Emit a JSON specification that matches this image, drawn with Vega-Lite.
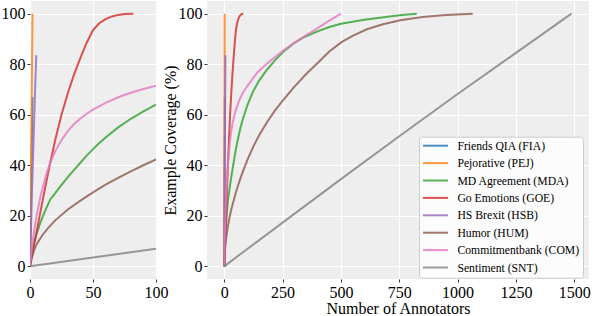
{
  "$schema": "https://vega.github.io/schema/vega-lite/v6.json",
  "padding": {"left": 1, "top": 1, "right": 0, "bottom": 0},
  "background": "white",
  "spacing": 51,
  "bounds": "flush",
  "datasets": {
    "curves": [
      {"s": "Friends QIA (FIA)", "x": 0, "y": 0},
      {"s": "Friends QIA (FIA)", "x": 1, "y": 33.5},
      {"s": "Friends QIA (FIA)", "x": 2, "y": 67},

      {"s": "Pejorative (PEJ)", "x": 0, "y": 0},
      {"s": "Pejorative (PEJ)", "x": 1, "y": 50},
      {"s": "Pejorative (PEJ)", "x": 2, "y": 100},

      {"s": "MD Agreement (MDA)", "x": 0, "y": 0},
      {"s": "MD Agreement (MDA)", "x": 1, "y": 4},
      {"s": "MD Agreement (MDA)", "x": 3, "y": 9},
      {"s": "MD Agreement (MDA)", "x": 5, "y": 12.5},
      {"s": "MD Agreement (MDA)", "x": 8, "y": 17},
      {"s": "MD Agreement (MDA)", "x": 12, "y": 22},
      {"s": "MD Agreement (MDA)", "x": 16, "y": 26.4},
      {"s": "MD Agreement (MDA)", "x": 20, "y": 29},
      {"s": "MD Agreement (MDA)", "x": 25, "y": 32.2},
      {"s": "MD Agreement (MDA)", "x": 30, "y": 35.3},
      {"s": "MD Agreement (MDA)", "x": 35, "y": 38.2},
      {"s": "MD Agreement (MDA)", "x": 40, "y": 41},
      {"s": "MD Agreement (MDA)", "x": 45, "y": 43.8},
      {"s": "MD Agreement (MDA)", "x": 50, "y": 46.4},
      {"s": "MD Agreement (MDA)", "x": 55, "y": 48.8},
      {"s": "MD Agreement (MDA)", "x": 60, "y": 51},
      {"s": "MD Agreement (MDA)", "x": 70, "y": 55},
      {"s": "MD Agreement (MDA)", "x": 80, "y": 58.4},
      {"s": "MD Agreement (MDA)", "x": 90, "y": 61.3},
      {"s": "MD Agreement (MDA)", "x": 100, "y": 64},
      {"s": "MD Agreement (MDA)", "x": 125, "y": 69.5},
      {"s": "MD Agreement (MDA)", "x": 150, "y": 73.6},
      {"s": "MD Agreement (MDA)", "x": 183, "y": 77.8},
      {"s": "MD Agreement (MDA)", "x": 218, "y": 81.6},
      {"s": "MD Agreement (MDA)", "x": 254, "y": 85},
      {"s": "MD Agreement (MDA)", "x": 300, "y": 88.4},
      {"s": "MD Agreement (MDA)", "x": 340, "y": 90.6},
      {"s": "MD Agreement (MDA)", "x": 400, "y": 93},
      {"s": "MD Agreement (MDA)", "x": 450, "y": 94.7},
      {"s": "MD Agreement (MDA)", "x": 500, "y": 96},
      {"s": "MD Agreement (MDA)", "x": 600, "y": 97.6},
      {"s": "MD Agreement (MDA)", "x": 700, "y": 98.8},
      {"s": "MD Agreement (MDA)", "x": 760, "y": 99.5},
      {"s": "MD Agreement (MDA)", "x": 825, "y": 100},

      {"s": "Go Emotions (GOE)", "x": 0, "y": 0},
      {"s": "Go Emotions (GOE)", "x": 2, "y": 5.3},
      {"s": "Go Emotions (GOE)", "x": 5, "y": 13},
      {"s": "Go Emotions (GOE)", "x": 10, "y": 26},
      {"s": "Go Emotions (GOE)", "x": 15, "y": 38.5},
      {"s": "Go Emotions (GOE)", "x": 20, "y": 50},
      {"s": "Go Emotions (GOE)", "x": 25, "y": 60},
      {"s": "Go Emotions (GOE)", "x": 30, "y": 68.5},
      {"s": "Go Emotions (GOE)", "x": 35, "y": 76},
      {"s": "Go Emotions (GOE)", "x": 40, "y": 82.5},
      {"s": "Go Emotions (GOE)", "x": 45, "y": 88.5},
      {"s": "Go Emotions (GOE)", "x": 50, "y": 93.5},
      {"s": "Go Emotions (GOE)", "x": 55, "y": 96.2},
      {"s": "Go Emotions (GOE)", "x": 60, "y": 97.8},
      {"s": "Go Emotions (GOE)", "x": 65, "y": 98.9},
      {"s": "Go Emotions (GOE)", "x": 70, "y": 99.5},
      {"s": "Go Emotions (GOE)", "x": 75, "y": 99.85},
      {"s": "Go Emotions (GOE)", "x": 82, "y": 100},

      {"s": "HS Brexit (HSB)", "x": 0, "y": 0},
      {"s": "HS Brexit (HSB)", "x": 1, "y": 19},
      {"s": "HS Brexit (HSB)", "x": 2, "y": 37},
      {"s": "HS Brexit (HSB)", "x": 3, "y": 53},
      {"s": "HS Brexit (HSB)", "x": 4, "y": 69},
      {"s": "HS Brexit (HSB)", "x": 5, "y": 83.5},

      {"s": "Humor (HUM)", "x": 0, "y": 0},
      {"s": "Humor (HUM)", "x": 1, "y": 2.5},
      {"s": "Humor (HUM)", "x": 3, "y": 6},
      {"s": "Humor (HUM)", "x": 5, "y": 8.5},
      {"s": "Humor (HUM)", "x": 10, "y": 12.5},
      {"s": "Humor (HUM)", "x": 15, "y": 15.5},
      {"s": "Humor (HUM)", "x": 20, "y": 18.2},
      {"s": "Humor (HUM)", "x": 30, "y": 22.5},
      {"s": "Humor (HUM)", "x": 40, "y": 26},
      {"s": "Humor (HUM)", "x": 50, "y": 29.3},
      {"s": "Humor (HUM)", "x": 60, "y": 32.3},
      {"s": "Humor (HUM)", "x": 70, "y": 35},
      {"s": "Humor (HUM)", "x": 80, "y": 37.6},
      {"s": "Humor (HUM)", "x": 90, "y": 40},
      {"s": "Humor (HUM)", "x": 100, "y": 42.3},
      {"s": "Humor (HUM)", "x": 125, "y": 47.5},
      {"s": "Humor (HUM)", "x": 150, "y": 52},
      {"s": "Humor (HUM)", "x": 183, "y": 57},
      {"s": "Humor (HUM)", "x": 220, "y": 62},
      {"s": "Humor (HUM)", "x": 254, "y": 66},
      {"s": "Humor (HUM)", "x": 300, "y": 71},
      {"s": "Humor (HUM)", "x": 350, "y": 76},
      {"s": "Humor (HUM)", "x": 400, "y": 80.5},
      {"s": "Humor (HUM)", "x": 450, "y": 85},
      {"s": "Humor (HUM)", "x": 504, "y": 88.8},
      {"s": "Humor (HUM)", "x": 550, "y": 91.2},
      {"s": "Humor (HUM)", "x": 611, "y": 93.8},
      {"s": "Humor (HUM)", "x": 680, "y": 95.8},
      {"s": "Humor (HUM)", "x": 754, "y": 97.4},
      {"s": "Humor (HUM)", "x": 850, "y": 98.7},
      {"s": "Humor (HUM)", "x": 950, "y": 99.5},
      {"s": "Humor (HUM)", "x": 1065, "y": 100},

      {"s": "Commitmentbank (COM)", "x": 0, "y": 0},
      {"s": "Commitmentbank (COM)", "x": 1, "y": 5},
      {"s": "Commitmentbank (COM)", "x": 2, "y": 9.5},
      {"s": "Commitmentbank (COM)", "x": 3, "y": 13},
      {"s": "Commitmentbank (COM)", "x": 5, "y": 19.5},
      {"s": "Commitmentbank (COM)", "x": 8, "y": 27},
      {"s": "Commitmentbank (COM)", "x": 10, "y": 31},
      {"s": "Commitmentbank (COM)", "x": 13, "y": 36.5},
      {"s": "Commitmentbank (COM)", "x": 16, "y": 41},
      {"s": "Commitmentbank (COM)", "x": 20, "y": 45.5},
      {"s": "Commitmentbank (COM)", "x": 25, "y": 50},
      {"s": "Commitmentbank (COM)", "x": 30, "y": 53.5},
      {"s": "Commitmentbank (COM)", "x": 35, "y": 56.3},
      {"s": "Commitmentbank (COM)", "x": 40, "y": 58.5},
      {"s": "Commitmentbank (COM)", "x": 45, "y": 60.4},
      {"s": "Commitmentbank (COM)", "x": 50, "y": 62},
      {"s": "Commitmentbank (COM)", "x": 60, "y": 64.7},
      {"s": "Commitmentbank (COM)", "x": 70, "y": 66.9},
      {"s": "Commitmentbank (COM)", "x": 80, "y": 68.7},
      {"s": "Commitmentbank (COM)", "x": 90, "y": 70.2},
      {"s": "Commitmentbank (COM)", "x": 100, "y": 71.5},
      {"s": "Commitmentbank (COM)", "x": 120, "y": 74},
      {"s": "Commitmentbank (COM)", "x": 140, "y": 76.5},
      {"s": "Commitmentbank (COM)", "x": 170, "y": 79.2},
      {"s": "Commitmentbank (COM)", "x": 200, "y": 81.5},
      {"s": "Commitmentbank (COM)", "x": 250, "y": 85.2},
      {"s": "Commitmentbank (COM)", "x": 300, "y": 88.4},
      {"s": "Commitmentbank (COM)", "x": 340, "y": 90.8},
      {"s": "Commitmentbank (COM)", "x": 400, "y": 94.3},
      {"s": "Commitmentbank (COM)", "x": 450, "y": 97.2},
      {"s": "Commitmentbank (COM)", "x": 500, "y": 100},

      {"s": "Sentiment (SNT)", "x": 0, "y": 0},
      {"s": "Sentiment (SNT)", "x": 100, "y": 7},
      {"s": "Sentiment (SNT)", "x": 250, "y": 17.3},
      {"s": "Sentiment (SNT)", "x": 500, "y": 34.5},
      {"s": "Sentiment (SNT)", "x": 750, "y": 51.5},
      {"s": "Sentiment (SNT)", "x": 1000, "y": 68.2},
      {"s": "Sentiment (SNT)", "x": 1250, "y": 84.5},
      {"s": "Sentiment (SNT)", "x": 1488, "y": 100}
    ]
  },
  "data": {"name": "curves"},
  "config": {
    "font": "Liberation Serif",
    "view": {"fill": "#EEEEEE", "stroke": null},
    "axis": {
      "domain": false,
      "gridColor": "white",
      "gridWidth": 1.2,
      "tickColor": "#333333",
      "tickSize": 3,
      "labelFont": "Liberation Serif",
      "labelFontSize": 16,
      "labelColor": "black",
      "labelPadding": 2,
      "labelFlush": false,
      "labelOverlap": false,
      "format": "d",
      "titleFont": "Liberation Serif",
      "titleFontSize": 16,
      "titleFontWeight": "normal",
      "titleColor": "black",
      "titlePadding": 0
    },
    "legend": {
      "title": null,
      "orient": "none",
      "legendX": 389,
      "legendY": 135.7,
      "symbolType": "stroke",
      "symbolSize": 625,
      "symbolStrokeWidth": 2,
      "symbolOpacity": 0.8,
      "symbolOffset": 0,
      "labelFont": "Liberation Serif",
      "labelFontSize": 11.7,
      "labelColor": "black",
      "labelOffset": 8.4,
      "clipHeight": 12,
      "rowPadding": 4.4,
      "padding": 3,
      "fillColor": "rgba(255,255,255,0.8)",
      "strokeColor": "#CCCCCC",
      "cornerRadius": 3
    }
  },
  "hconcat": [
    {
      "width": 126,
      "height": 278,
      "mark": {"type": "line", "clip": true, "strokeWidth": 2, "opacity": 0.8},
      "encoding": {
        "x": {"field": "x", "type": "quantitative", "scale": {"domain": [0, 100], "nice": false, "zero": false}, "axis": {"values": [0, 50, 100], "title": null, "format": "d"}},
        "y": {"field": "y", "type": "quantitative", "scale": {"domain": [-5, 105], "nice": false}, "axis": {"values": [0, 20, 40, 60, 80, 100], "title": null, "format": "d"}},
        "color": {
          "field": "s", "type": "nominal",
          "scale": {
            "domain": ["Friends QIA (FIA)", "Pejorative (PEJ)", "MD Agreement (MDA)", "Go Emotions (GOE)", "HS Brexit (HSB)", "Humor (HUM)", "Commitmentbank (COM)", "Sentiment (SNT)"],
            "range": ["#1f77b4", "#ff7f0e", "#2ca02c", "#d62728", "#9467bd", "#8c564b", "#e377c2", "#7f7f7f"]
          }
        }
      }
    },
    {
      "width": 382,
      "height": 278,
      "mark": {"type": "line", "clip": true, "strokeWidth": 2, "opacity": 0.8},
      "encoding": {
        "x": {"field": "x", "type": "quantitative", "scale": {"domain": [-74, 1563], "nice": false, "zero": false}, "axis": {"values": [0, 250, 500, 750, 1000, 1250, 1500], "title": "Number of Annotators", "format": "d"}},
        "y": {"field": "y", "type": "quantitative", "scale": {"domain": [-5, 105], "nice": false}, "axis": {"values": [0, 20, 40, 60, 80, 100], "title": "Example Coverage (%)", "format": "d"}},
        "color": {
          "field": "s", "type": "nominal",
          "scale": {
            "domain": ["Friends QIA (FIA)", "Pejorative (PEJ)", "MD Agreement (MDA)", "Go Emotions (GOE)", "HS Brexit (HSB)", "Humor (HUM)", "Commitmentbank (COM)", "Sentiment (SNT)"],
            "range": ["#1f77b4", "#ff7f0e", "#2ca02c", "#d62728", "#9467bd", "#8c564b", "#e377c2", "#7f7f7f"]
          }
        }
      }
    }
  ]
}
